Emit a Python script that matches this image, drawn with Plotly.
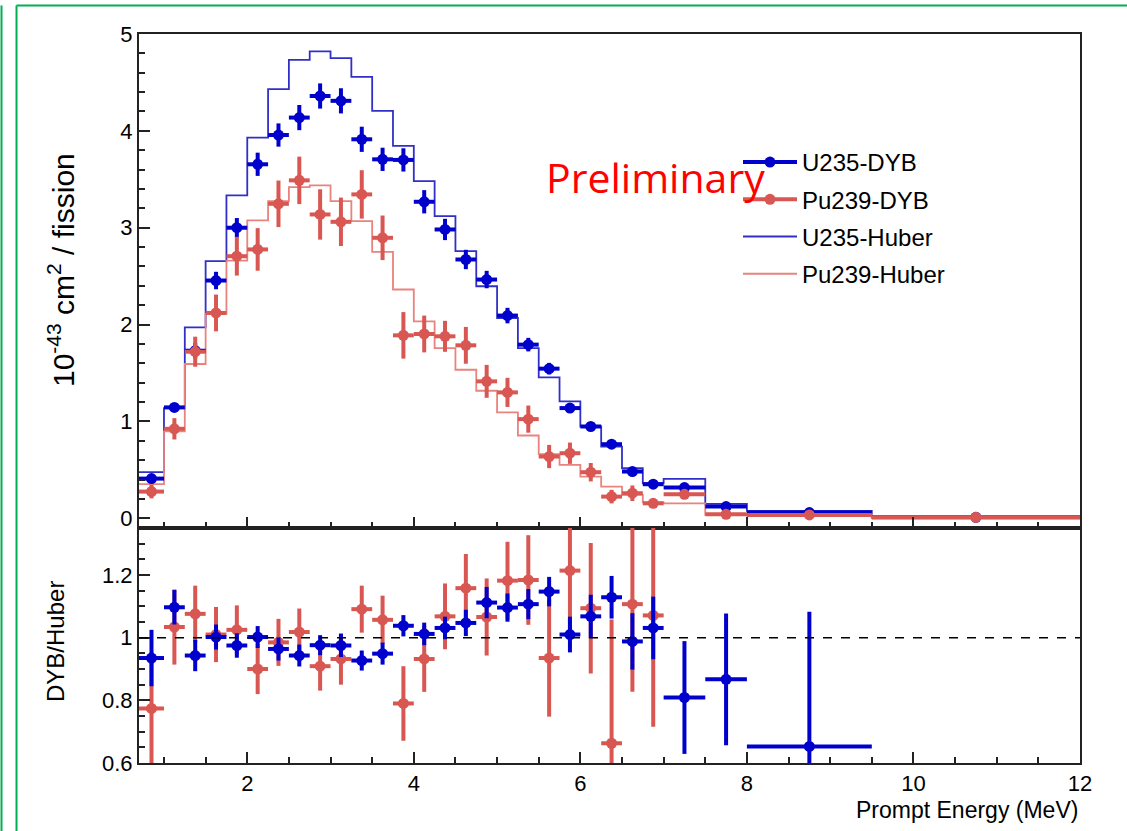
import plotly.graph_objects as go

# ---------------- data ----------------
bin_edges = [0.7, 1.0, 1.25, 1.5, 1.75, 2.0, 2.25, 2.5, 2.75, 3.0, 3.25, 3.5, 3.75, 4.0,
             4.25, 4.5, 4.75, 5.0, 5.25, 5.5, 5.75, 6.0, 6.25, 6.5, 6.75, 7.0, 7.5, 8.0, 9.5, 12.0]

u235_dyb = [0.41, 1.145, 1.73, 2.455, 3.00, 3.655, 3.957, 4.137, 4.36, 4.31, 3.913, 3.706, 3.70,
            3.268, 2.982, 2.672, 2.465, 2.093, 1.793, 1.545, 1.138, 0.948, 0.765, 0.483, 0.352,
            0.317, 0.121, 0.059, 0.01]
u235_dyb_err = [0.03, 0.04, 0.08, 0.09, 0.10, 0.12, 0.12, 0.13, 0.13, 0.13, 0.13, 0.12, 0.12, 0.12,
                0.11, 0.10, 0.09, 0.08, 0.07, 0.06, 0.05, 0.04, 0.035, 0.03, 0.025, 0.02, 0.01,
                0.01, 0.005]

pu239_dyb = [0.276, 0.924, 1.72, 2.12, 2.706, 2.776, 3.247, 3.489, 3.137, 3.061, 3.344, 2.896,
             1.889, 1.903, 1.879, 1.786, 1.414, 1.30, 1.024, 0.638, 0.672, 0.476, 0.224, 0.259,
             0.155, 0.248, 0.041, 0.035, 0.01]
pu239_dyb_err = [0.07, 0.11, 0.155, 0.19, 0.20, 0.22, 0.24, 0.245, 0.26, 0.25, 0.25, 0.23, 0.24,
                 0.19, 0.16, 0.19, 0.17, 0.15, 0.14, 0.12, 0.11, 0.095, 0.07, 0.08, 0.03, 0.05,
                 0.02, 0.01, 0.005]

u235_huber = [0.476, 1.138, 1.972, 2.655, 3.334, 3.93, 4.43, 4.733, 4.82, 4.75, 4.557, 4.206,
              3.844, 3.482, 3.12, 2.758, 2.396, 2.068, 1.758, 1.455, 1.207, 0.948, 0.741, 0.517,
              0.362, 0.407, 0.149, 0.077, 0.01]
pu239_huber = [0.352, 0.897, 1.593, 2.11, 2.66, 3.075, 3.275, 3.42, 3.437, 3.275, 3.068, 2.75,
               2.362, 2.034, 1.758, 1.534, 1.317, 1.093, 0.855, 0.662, 0.552, 0.431, 0.328, 0.242,
               0.165, 0.155, 0.035, 0.04, 0.007]

u235_ratio = [0.935, 1.097, 0.943, 1.002, 0.975, 1.002, 0.964, 0.943, 0.976, 0.975, 0.927, 0.949,
              1.038, 1.012, 1.031, 1.047, 1.112, 1.096, 1.107, 1.147, 1.01, 1.068, 1.129, 0.988,
              1.031, 0.809, 0.867, 0.653, None]
u235_ratio_err = [0.09, 0.055, 0.05, 0.04, 0.039, 0.035, 0.037, 0.035, 0.032, 0.037, 0.032, 0.035,
                  0.034, 0.036, 0.036, 0.042, 0.05, 0.045, 0.048, 0.047, 0.057, 0.069, 0.068, 0.09,
                  0.10, 0.18, 0.21, 0.43, None]
pu239_ratio = [0.774, 1.034, 1.076, 1.01, 1.025, 0.90, 0.985, 1.018, 0.909, 0.932, 1.091, 1.057,
               0.79, 0.932, 1.068, 1.158, 1.066, 1.182, 1.184, 0.935, 1.214, 1.094, 0.663, 1.107,
               1.071, None, None, None, None]
pu239_ratio_err = [0.18, 0.12, 0.09, 0.088, 0.078, 0.08, 0.075, 0.075, 0.078, 0.082, 0.075, 0.077,
                   0.119, 0.105, 0.105, 0.109, 0.123, 0.124, 0.143, 0.187, 0.20, 0.208, 0.395, 0.28,
                   0.355, None, None, None, None]

y_ticks_top = [0, 1, 2, 3, 4, 5]
y_ticks_bottom = [0.6, 0.8, 1.0, 1.2]
y_ticklabels_bottom = ["0.6", "0.8", "1", "1.2"]

# ---------------- derived (histogram geometry) ----------------
centers = [(a + b) / 2 for a, b in zip(bin_edges[:-1], bin_edges[1:])]
half_w = [(b - a) / 2 for a, b in zip(bin_edges[:-1], bin_edges[1:])]

BLUE = "#0000CC"
RED = "#D95752"
BLUE_H = "#3030C8"
RED_H = "#E8837E"
FONT = "Liberation Sans"

fig = go.Figure()

# Huber step histograms (top)
for vals, col in [(u235_huber, BLUE_H), (pu239_huber, RED_H)]:
    fig.add_trace(go.Scatter(x=bin_edges, y=vals + [vals[-1]], mode="lines",
                             line=dict(color=col, width=1.8, shape="hv"),
                             xaxis="x", yaxis="y", showlegend=False, hoverinfo="skip"))

# DYB points (top)
for vals, errs, col in [(u235_dyb, u235_dyb_err, BLUE), (pu239_dyb, pu239_dyb_err, RED)]:
    fig.add_trace(go.Scatter(x=centers, y=vals, mode="markers",
                             marker=dict(color=col, size=11),
                             error_y=dict(type="data", array=errs, color=col, thickness=4, width=0),
                             error_x=dict(type="data", array=half_w, color=col, thickness=4, width=0),
                             xaxis="x", yaxis="y", showlegend=False))

# Ratio points (bottom)
for vals, errs, col in [(pu239_ratio, pu239_ratio_err, RED), (u235_ratio, u235_ratio_err, BLUE)]:
    fig.add_trace(go.Scatter(x=centers, y=vals, mode="markers",
                             marker=dict(color=col, size=11),
                             error_y=dict(type="data", array=errs, color=col, thickness=4, width=0),
                             error_x=dict(type="data", array=half_w, color=col, thickness=4, width=0),
                             xaxis="x2", yaxis="y2", showlegend=False))

# Legend entries
fig.add_trace(go.Scatter(x=[None], y=[None], mode="lines+markers", name="U235-DYB", legendgroup="a",
                         line=dict(color=BLUE, width=4), marker=dict(color=BLUE, size=11)))
fig.add_trace(go.Scatter(x=[None], y=[None], mode="lines+markers", name="Pu239-DYB", legendgroup="b",
                         line=dict(color=RED, width=4), marker=dict(color=RED, size=11)))
fig.add_trace(go.Scatter(x=[None], y=[None], mode="lines", name="U235-Huber", legendgroup="c",
                         line=dict(color=BLUE_H, width=2)))
fig.add_trace(go.Scatter(x=[None], y=[None], mode="lines", name="Pu239-Huber", legendgroup="d",
                         line=dict(color=RED_H, width=2)))

W, H = 1127, 831
L, R, T, B = 139, 47, 34, 68
pw, ph = W - L - R, H - T - B
split = 235 / ph

def px(xp):
    return (xp - L) / pw

def py(yp):
    return (H - B - yp) / ph

axis_common = dict(showline=True, linecolor="#222", linewidth=2, mirror=True,
                   ticks="inside", tickcolor="#222", tickwidth=1.5, showgrid=False, zeroline=False,
                   tickfont=dict(family=FONT, size=22, color="black"))

fig.update_layout(
    width=W, height=H, margin=dict(l=L, r=R, t=T, b=B),
    paper_bgcolor="white", plot_bgcolor="white",
    xaxis=dict(domain=[0, 1], anchor="y", range=[0.7, 12], dtick=2, ticklen=11,
               showticklabels=False, minor=dict(ticks="inside", dtick=0.5, ticklen=6,
                                               tickcolor="#222", tickwidth=1.5),
               **axis_common),
    yaxis=dict(domain=[split, 1], anchor="x", range=[-0.1, 5.0], tickvals=y_ticks_top,
               ticklen=11, minor=dict(ticks="inside", dtick=0.2, ticklen=6,
                                      tickcolor="#222", tickwidth=1.5),
               **axis_common),
    xaxis2=dict(domain=[0, 1], anchor="y2", range=[0.7, 12], dtick=2, ticklen=11,
                minor=dict(ticks="inside", dtick=0.5, ticklen=6, tickcolor="#222", tickwidth=1.5),
                **axis_common),
    yaxis2=dict(domain=[0, split], anchor="x2", range=[0.6, 1.35], tickvals=y_ticks_bottom,
                ticktext=y_ticklabels_bottom, ticklen=11,
                minor=dict(ticks="inside", dtick=0.05, ticklen=6, tickcolor="#222", tickwidth=1.5),
                **axis_common),
    legend=dict(x=px(738), y=py(140), xanchor="left", yanchor="top",
                font=dict(family=FONT, size=24, color="black"),
                bgcolor="rgba(0,0,0,0)", itemwidth=54, tracegroupgap=3),
    showlegend=True,
)

# dashed unity line in ratio panel
fig.add_shape(type="line", xref="x2", yref="y2", x0=0.7, x1=12, y0=1, y1=1,
              line=dict(color="black", width=1.5, dash="dash"))

# green slide border lines
GREEN = "#00B050"
fig.add_shape(type="line", xref="paper", yref="paper", x0=px(1.5), x1=px(1.5), y0=py(5.5), y1=py(831),
              line=dict(color=GREEN, width=2))
fig.add_shape(type="line", xref="paper", yref="paper", x0=px(16.5), x1=px(16.5), y0=py(5.5), y1=py(831),
              line=dict(color=GREEN, width=2))
fig.add_shape(type="line", xref="paper", yref="paper", x0=px(16.5), x1=px(1127), y0=py(5.5), y1=py(5.5),
              line=dict(color=GREEN, width=2))

# texts
fig.add_annotation(text="Preliminary", xref="paper", yref="paper", x=px(544), y=py(177),
                   xanchor="left", yanchor="middle", showarrow=False,
                   font=dict(family="Open Sans", size=41, color="#FF0000"))
fig.add_annotation(text="10<sup>-43</sup> cm<sup>2</sup> / fission", xref="paper", yref="paper",
                   x=px(61), y=py(270), textangle=-90, xanchor="center", yanchor="middle",
                   showarrow=False, font=dict(family=FONT, size=30, color="black"))
fig.add_annotation(text="DYB/Huber", xref="paper", yref="paper",
                   x=px(55), y=py(642), textangle=-90, xanchor="center", yanchor="middle",
                   showarrow=False, font=dict(family=FONT, size=24, color="black"))
fig.add_annotation(text="Prompt Energy (MeV)", xref="paper", yref="paper",
                   x=px(1080), y=py(810), xanchor="right", yanchor="middle",
                   showarrow=False, font=dict(family=FONT, size=23, color="black"))

fig.write_html("out.html")
